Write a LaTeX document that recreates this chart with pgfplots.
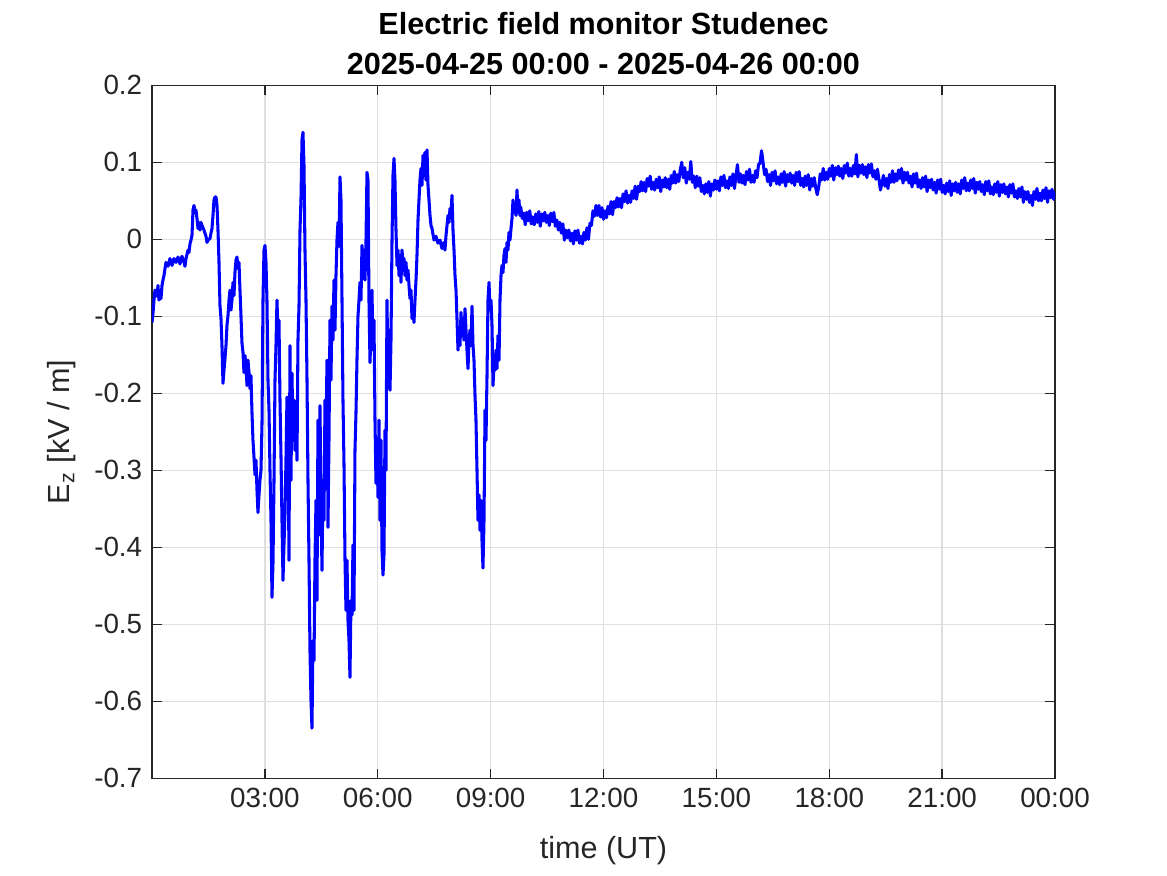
\documentclass[border=0pt]{standalone}
\usepackage{fontspec}
\setmainfont{Liberation Sans}
\usepackage{pgfplots}
\pgfplotsset{compat=1.18}
\definecolor{axgray}{HTML}{262626}
\definecolor{gridgray}{HTML}{DFDFDF}
\begin{document}
\begin{tikzpicture}
\useasboundingbox (-54.7pt,-34.9pt) rectangle (365.3pt,280.1pt);
\begin{axis}[
  at={(0,0)}, anchor=south west,
  width=325pt, height=249.4pt, scale only axis,
  xmin=0, xmax=24, ymin=-0.7, ymax=0.2,
  xtick={3,6,9,12,15,18,21,24},
  xticklabels={03:00,06:00,09:00,12:00,15:00,18:00,21:00,00:00},
  ytick={-0.7,-0.6,-0.5,-0.4,-0.3,-0.2,-0.1,0,0.1,0.2},
  yticklabels={-0.7,-0.6,-0.5,-0.4,-0.3,-0.2,-0.1,0,0.1,0.2},
  tick align=inside,
  major tick length=3.5pt,
  tick style={color=axgray, line width=0.5pt},
  axis line style={color=axgray, line width=0.5pt},
  ticklabel style={font=\fontsize{10}{12}\selectfont, color=axgray},
  grid=major,
  major grid style={color=gridgray, line width=0.5pt},
  title={Electric field monitor Studenec\\2025-04-25 00:00 - 2025-04-26 00:00},
  title style={font=\bfseries\fontsize{11}{14.5}\selectfont, align=center,
    at={(axis description cs:0.5,1)}, anchor=south, inner sep=0pt, yshift=-2.4pt},
  xlabel={time (UT)},
  xlabel style={font=\fontsize{11}{13}\selectfont, color=axgray,
    at={(axis description cs:0.5,-0.1039)}, anchor=center},
  ylabel={E\textsubscript{z} [kV / m]},
  ylabel style={font=\fontsize{11}{13}\selectfont, color=axgray,
    at={(axis description cs:-0.0997,0.5)}, anchor=center},
]
\addplot[color=blue, line width=1.1pt, line join=round] table {
h v
0.000 -0.108
0.027 -0.096
0.053 -0.079
0.080 -0.066
0.133 -0.074
0.159 -0.060
0.186 -0.079
0.213 -0.069
0.239 -0.077
0.266 -0.060
0.292 -0.053
0.319 -0.047
0.346 -0.038
0.372 -0.030
0.425 -0.035
0.478 -0.025
0.532 -0.034
0.585 -0.025
0.638 -0.030
0.691 -0.023
0.744 -0.032
0.797 -0.022
0.851 -0.030
0.877 -0.035
0.904 -0.025
0.957 -0.014
0.983 -0.017
1.010 -0.006
1.037 -0.001
1.063 0.005
1.090 0.038
1.116 0.044
1.143 0.035
1.169 0.038
1.196 0.027
1.223 0.014
1.249 0.022
1.276 0.012
1.302 0.022
1.329 0.018
1.382 0.012
1.435 0.004
1.462 -0.004
1.488 -0.001
1.542 0.001
1.568 0.008
1.595 0.014
1.621 0.031
1.648 0.051
1.674 0.055
1.701 0.055
1.728 0.044
1.754 0.012
1.781 -0.030
1.807 -0.086
1.834 -0.103
1.860 -0.138
1.887 -0.187
1.914 -0.170
1.940 -0.155
1.967 -0.138
1.993 -0.112
2.020 -0.099
2.047 -0.079
2.073 -0.066
2.100 -0.092
2.126 -0.079
2.153 -0.056
2.179 -0.073
2.206 -0.043
2.233 -0.027
2.259 -0.023
2.286 -0.038
2.312 -0.030
2.339 -0.066
2.365 -0.099
2.392 -0.135
2.419 -0.147
2.445 -0.173
2.472 -0.151
2.498 -0.164
2.525 -0.190
2.551 -0.157
2.578 -0.173
2.605 -0.194
2.631 -0.177
2.658 -0.226
2.684 -0.261
2.711 -0.283
2.738 -0.306
2.764 -0.287
2.791 -0.326
2.817 -0.355
2.844 -0.332
2.870 -0.313
2.897 -0.300
2.924 -0.239
2.950 -0.079
2.977 -0.014
3.003 -0.008
3.030 -0.030
3.056 -0.079
3.083 -0.183
3.110 -0.222
3.136 -0.300
3.163 -0.365
3.189 -0.465
3.216 -0.421
3.243 -0.313
3.269 -0.183
3.296 -0.138
3.322 -0.079
3.349 -0.125
3.375 -0.105
3.402 -0.209
3.429 -0.283
3.455 -0.365
3.482 -0.443
3.508 -0.397
3.535 -0.356
3.561 -0.287
3.588 -0.205
3.615 -0.235
3.641 -0.417
3.668 -0.138
3.694 -0.313
3.721 -0.174
3.747 -0.261
3.774 -0.209
3.801 -0.274
3.827 -0.222
3.854 -0.287
3.880 -0.131
3.907 -0.087
3.934 0.012
3.960 0.052
3.987 0.129
4.013 0.139
4.040 0.096
4.066 -0.014
4.093 -0.079
4.120 -0.183
4.146 -0.313
4.173 -0.417
4.199 -0.534
4.226 -0.599
4.252 -0.635
4.279 -0.521
4.306 -0.547
4.332 -0.417
4.359 -0.339
4.385 -0.469
4.412 -0.235
4.438 -0.384
4.465 -0.216
4.492 -0.339
4.518 -0.430
4.545 -0.313
4.571 -0.365
4.598 -0.209
4.625 -0.256
4.651 -0.157
4.678 -0.374
4.704 -0.261
4.731 -0.105
4.757 -0.183
4.784 -0.087
4.811 -0.131
4.837 -0.053
4.864 -0.118
4.890 -0.047
4.917 -0.001
4.943 0.022
4.970 -0.009
4.997 0.081
5.023 0.051
5.050 -0.079
5.076 -0.209
5.103 -0.292
5.130 -0.417
5.156 -0.482
5.183 -0.417
5.209 -0.495
5.236 -0.521
5.262 -0.569
5.289 -0.469
5.316 -0.488
5.342 -0.397
5.369 -0.482
5.395 -0.274
5.422 -0.225
5.448 -0.157
5.475 -0.100
5.502 -0.079
5.528 -0.056
5.555 -0.079
5.581 -0.008
5.608 -0.051
5.635 -0.014
5.661 -0.053
5.688 -0.001
5.714 0.087
5.741 0.077
5.767 -0.079
5.794 -0.160
5.821 -0.118
5.847 -0.066
5.874 -0.144
5.900 -0.105
5.927 -0.235
5.953 -0.317
5.980 -0.268
6.007 -0.335
6.033 -0.235
6.060 -0.365
6.086 -0.261
6.113 -0.404
6.140 -0.436
6.166 -0.410
6.193 -0.248
6.219 -0.300
6.246 -0.079
6.272 -0.183
6.299 -0.118
6.326 -0.196
6.352 -0.131
6.379 -0.001
6.405 0.083
6.432 0.105
6.458 0.077
6.485 0.012
6.512 -0.034
6.538 -0.014
6.565 -0.047
6.591 -0.021
6.618 -0.056
6.644 -0.014
6.671 -0.030
6.698 -0.025
6.724 -0.047
6.751 -0.030
6.777 -0.053
6.804 -0.040
6.831 -0.060
6.857 -0.077
6.884 -0.066
6.910 -0.103
6.937 -0.086
6.963 -0.108
6.990 -0.079
7.017 -0.053
7.043 -0.021
7.070 0.025
7.096 0.051
7.123 0.077
7.149 0.092
7.176 0.070
7.203 0.109
7.229 0.083
7.256 0.113
7.282 0.077
7.309 0.116
7.336 0.070
7.362 0.051
7.389 0.031
7.415 0.018
7.442 0.014
7.495 -0.001
7.548 0.004
7.601 -0.005
7.655 -0.001
7.708 -0.012
7.761 -0.004
7.787 -0.014
7.814 0.005
7.841 0.018
7.867 0.031
7.894 0.022
7.920 0.040
7.947 0.035
7.973 0.057
8.000 0.012
8.027 -0.014
8.053 -0.047
8.080 -0.066
8.106 -0.103
8.133 -0.144
8.159 -0.118
8.186 -0.138
8.213 -0.095
8.239 -0.125
8.266 -0.108
8.292 -0.131
8.319 -0.090
8.346 -0.118
8.372 -0.144
8.399 -0.168
8.425 -0.131
8.452 -0.118
8.478 -0.138
8.505 -0.087
8.532 -0.138
8.558 -0.157
8.585 -0.203
8.611 -0.235
8.638 -0.300
8.664 -0.365
8.691 -0.332
8.718 -0.378
8.744 -0.339
8.771 -0.391
8.797 -0.427
8.824 -0.365
8.851 -0.222
8.877 -0.261
8.904 -0.177
8.930 -0.079
8.957 -0.056
8.983 -0.092
9.010 -0.079
9.037 -0.112
9.063 -0.190
9.090 -0.164
9.116 -0.170
9.143 -0.144
9.169 -0.168
9.196 -0.125
9.223 -0.157
9.249 -0.079
9.276 -0.047
9.302 -0.034
9.329 -0.043
9.355 -0.021
9.382 -0.012
9.409 -0.030
9.435 -0.004
9.462 -0.014
9.488 0.009
9.515 -0.001
9.542 0.014
9.568 0.027
9.595 0.051
9.621 0.038
9.648 0.044
9.674 0.031
9.701 0.064
9.728 0.035
9.754 0.051
9.780 0.031
9.80 0.042
9.84 0.027
9.88 0.034
9.92 0.019
9.96 0.035
10.00 0.024
10.04 0.037
10.08 0.020
10.12 0.029
10.16 0.019
10.20 0.033
10.24 0.022
10.28 0.036
10.32 0.017
10.36 0.033
10.40 0.024
10.44 0.035
10.48 0.022
10.52 0.031
10.56 0.018
10.60 0.034
10.64 0.023
10.68 0.035
10.72 0.017
10.76 0.025
10.80 0.012
10.84 0.022
10.88 0.008
10.92 0.020
10.96 -0.001
11.00 0.012
11.04 0.002
11.08 0.012
11.12 -0.002
11.16 0.008
11.20 -0.006
11.24 0.011
11.28 -0.001
11.32 0.012
11.36 -0.005
11.40 0.004
11.44 -0.006
11.48 0.009
11.52 -0.001
11.56 0.015
11.60 0.000
11.64 0.021
11.68 0.018
11.72 0.037
11.76 0.030
11.80 0.044
11.84 0.031
11.88 0.044
11.92 0.029
11.96 0.041
12.00 0.026
12.04 0.037
12.08 0.028
12.12 0.043
12.16 0.033
12.20 0.049
12.24 0.032
12.28 0.049
12.32 0.041
12.36 0.054
12.40 0.042
12.44 0.053
12.48 0.041
12.52 0.059
12.56 0.049
12.60 0.063
12.64 0.047
12.68 0.057
12.72 0.048
12.76 0.063
12.80 0.053
12.84 0.069
12.88 0.052
12.92 0.069
12.96 0.062
13.00 0.075
13.04 0.063
13.08 0.074
13.12 0.062
13.16 0.079
13.20 0.069
13.24 0.082
13.28 0.065
13.32 0.074
13.36 0.064
13.40 0.078
13.44 0.067
13.48 0.081
13.52 0.062
13.56 0.077
13.60 0.068
13.64 0.080
13.68 0.067
13.72 0.078
13.76 0.065
13.80 0.083
13.84 0.073
13.88 0.088
13.92 0.073
13.96 0.084
14.00 0.075
14.04 0.090
14.08 0.100
14.12 0.080
14.16 0.093
14.20 0.073
14.24 0.087
14.28 0.078
14.32 0.101
14.36 0.074
14.40 0.082
14.44 0.067
14.48 0.082
14.52 0.069
14.56 0.080
14.60 0.062
14.64 0.070
14.68 0.059
14.72 0.072
14.76 0.061
14.80 0.075
14.84 0.056
14.88 0.072
14.92 0.064
14.96 0.077
15.00 0.065
15.04 0.076
15.08 0.063
15.12 0.081
15.16 0.070
15.20 0.083
15.24 0.067
15.28 0.076
15.32 0.066
15.36 0.081
15.40 0.070
15.44 0.085
15.48 0.066
15.52 0.082
15.56 0.097
15.60 0.074
15.64 0.085
15.68 0.073
15.72 0.083
15.76 0.071
15.80 0.088
15.84 0.077
15.88 0.091
15.92 0.074
15.96 0.083
16.00 0.074
16.04 0.089
16.08 0.080
16.12 0.097
16.16 0.099
16.20 0.115
16.24 0.100
16.28 0.084
16.32 0.091
16.36 0.075
16.40 0.084
16.44 0.070
16.48 0.087
16.52 0.076
16.56 0.089
16.60 0.072
16.64 0.081
16.68 0.071
16.72 0.085
16.76 0.074
16.80 0.088
16.84 0.069
16.88 0.084
16.92 0.075
16.96 0.086
17.00 0.073
17.04 0.083
17.08 0.070
17.12 0.087
17.16 0.075
17.20 0.088
17.24 0.070
17.28 0.079
17.32 0.068
17.36 0.082
17.40 0.070
17.44 0.084
17.48 0.064
17.52 0.079
17.56 0.069
17.60 0.080
17.64 0.067
17.68 0.058
17.72 0.068
17.76 0.085
17.80 0.077
17.84 0.092
17.88 0.077
17.92 0.087
17.96 0.078
18.00 0.092
18.04 0.082
18.08 0.096
18.12 0.077
18.16 0.093
18.20 0.084
18.24 0.095
18.28 0.082
18.32 0.092
18.36 0.079
18.40 0.096
18.44 0.086
18.48 0.099
18.52 0.082
18.56 0.092
18.60 0.082
18.64 0.096
18.68 0.085
18.72 0.110
18.76 0.081
18.80 0.096
18.84 0.086
18.88 0.097
18.92 0.084
18.96 0.094
19.00 0.080
19.04 0.097
19.08 0.086
19.12 0.098
19.16 0.081
19.20 0.089
19.24 0.078
19.28 0.091
19.32 0.078
19.36 0.064
19.40 0.073
19.44 0.083
19.48 0.069
19.52 0.079
19.56 0.066
19.60 0.084
19.64 0.074
19.68 0.089
19.72 0.074
19.76 0.085
19.80 0.076
19.84 0.090
19.88 0.079
19.92 0.092
19.96 0.073
20.00 0.087
20.04 0.077
20.08 0.087
20.12 0.073
20.16 0.082
20.20 0.068
20.24 0.085
20.28 0.073
20.32 0.086
20.36 0.068
20.40 0.077
20.44 0.066
20.48 0.080
20.52 0.068
20.56 0.082
20.60 0.062
20.64 0.077
20.68 0.067
20.72 0.078
20.76 0.064
20.80 0.074
20.84 0.060
20.88 0.077
20.92 0.065
20.96 0.078
21.00 0.061
21.04 0.070
21.08 0.059
21.12 0.073
21.16 0.062
21.20 0.076
21.24 0.057
21.28 0.072
21.32 0.063
21.36 0.074
21.40 0.061
21.44 0.072
21.48 0.059
21.52 0.077
21.56 0.066
21.60 0.080
21.64 0.063
21.68 0.073
21.72 0.063
21.76 0.077
21.80 0.066
21.84 0.079
21.88 0.060
21.92 0.074
21.96 0.065
22.00 0.075
22.04 0.062
22.08 0.071
22.12 0.058
22.16 0.075
22.20 0.063
22.24 0.076
22.28 0.059
22.32 0.068
22.36 0.058
22.40 0.072
22.44 0.061
22.48 0.075
22.52 0.056
22.56 0.071
22.60 0.061
22.64 0.072
22.68 0.059
22.72 0.068
22.76 0.055
22.80 0.071
22.84 0.060
22.88 0.072
22.92 0.055
22.96 0.063
23.00 0.053
23.04 0.066
23.08 0.055
23.12 0.068
23.16 0.048
23.20 0.062
23.24 0.052
23.28 0.062
23.32 0.048
23.36 0.057
23.40 0.044
23.44 0.062
23.48 0.052
23.52 0.066
23.56 0.050
23.60 0.060
23.64 0.050
23.68 0.064
23.72 0.053
23.76 0.067
23.80 0.048
23.84 0.063
23.88 0.054
23.92 0.065
23.96 0.052
24.00 0.062
};
\end{axis}
\end{tikzpicture}
\end{document}
